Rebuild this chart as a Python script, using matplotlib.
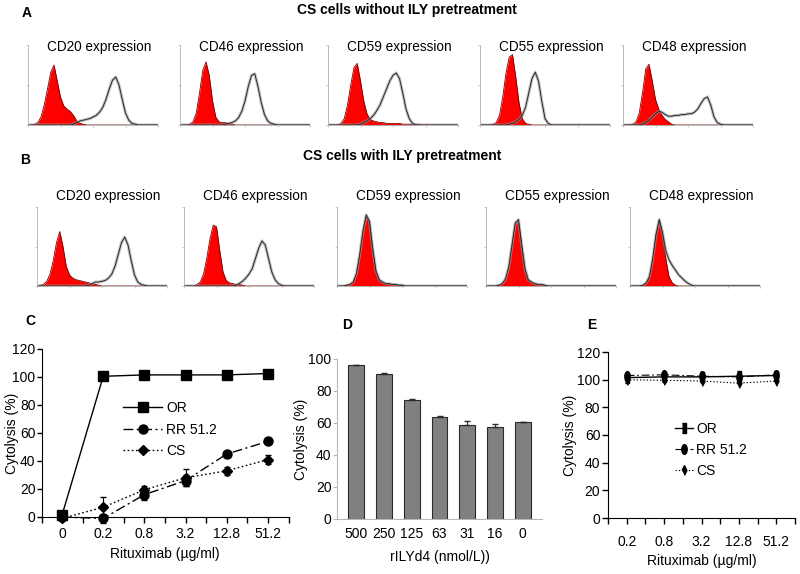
import numpy as np
import matplotlib
matplotlib.use("Agg")
import matplotlib.pyplot as plt
from matplotlib.lines import Line2D

plt.rcParams['font.family'] = ['Liberation Sans', 'DejaVu Sans']

# ---------------- data ----------------
# Flow cytometry histograms: heights (fraction of axis height) on a grid of
# log10 fluorescence in 0.1-decade bins, listed from a start decade.
A_CD20_ISO = (0.2, [0.01, 0.03, 0.10, 0.25, 0.45, 0.66, 0.75, 0.55, 0.35, 0.24, 0.20, 0.17, 0.12, 0.05, 0.02, 0.01])
A_CD20_EXP = (1.4, [0.01, 0.03, 0.05, 0.06, 0.07, 0.08, 0.10, 0.12, 0.16, 0.22, 0.32, 0.45, 0.56, 0.60, 0.50, 0.32, 0.15, 0.06, 0.02, 0.01])
A_CD46_ISO = (0.3, [0.01, 0.04, 0.15, 0.40, 0.68, 0.79, 0.62, 0.30, 0.10, 0.04, 0.03, 0.03, 0.02, 0.01])
A_CD46_EXP = (1.4, [0.01, 0.02, 0.03, 0.05, 0.09, 0.17, 0.30, 0.48, 0.62, 0.64, 0.48, 0.28, 0.13, 0.05, 0.02, 0.01])
A_CD59_ISO = (0.4, [0.02, 0.08, 0.25, 0.50, 0.72, 0.77, 0.55, 0.30, 0.14, 0.07, 0.05, 0.04, 0.03, 0.03, 0.02, 0.02, 0.02, 0.02, 0.02, 0.01, 0.01, 0.01, 0.01, 0.01, 0.01])
A_CD59_EXP = (1.0, [0.01, 0.03, 0.05, 0.08, 0.12, 0.18, 0.25, 0.35, 0.45, 0.55, 0.62, 0.65, 0.58, 0.40, 0.20, 0.08, 0.02])
A_CD55_ISO = (0.4, [0.01, 0.03, 0.12, 0.35, 0.65, 0.85, 0.88, 0.60, 0.28, 0.08, 0.02, 0.01])
A_CD55_EXP = (0.9, [0.01, 0.02, 0.04, 0.07, 0.12, 0.22, 0.40, 0.58, 0.66, 0.55, 0.30, 0.08, 0.02])
A_CD48_ISO = (0.3, [0.01, 0.04, 0.15, 0.40, 0.70, 0.76, 0.55, 0.32, 0.20, 0.12, 0.07, 0.04, 0.01])
A_CD48_EXP = (0.6, [0.01, 0.03, 0.06, 0.10, 0.14, 0.17, 0.16, 0.13, 0.11, 0.11, 0.12, 0.12, 0.13, 0.13, 0.14, 0.14, 0.16, 0.20, 0.27, 0.33, 0.35, 0.25, 0.10, 0.03, 0.01])

B_CD20_ISO = (0.1, [0.01, 0.02, 0.06, 0.15, 0.32, 0.55, 0.69, 0.50, 0.25, 0.14, 0.10, 0.08, 0.07, 0.06, 0.05, 0.04, 0.03, 0.02, 0.01])
B_CD20_EXP = (1.6, [0.01, 0.03, 0.05, 0.05, 0.06, 0.07, 0.10, 0.15, 0.25, 0.40, 0.55, 0.62, 0.52, 0.32, 0.14, 0.05, 0.02, 0.01])
B_CD46_ISO = (0.4, [0.02, 0.05, 0.15, 0.35, 0.60, 0.77, 0.75, 0.45, 0.18, 0.07, 0.04, 0.03, 0.02, 0.02, 0.01])
B_CD46_EXP = (1.6, [0.01, 0.03, 0.06, 0.10, 0.15, 0.22, 0.35, 0.48, 0.57, 0.52, 0.35, 0.18, 0.08, 0.03, 0.01])
B_CD59_ISO = (0.3, [0.01, 0.02, 0.05, 0.15, 0.38, 0.68, 0.88, 0.80, 0.45, 0.18, 0.07, 0.04, 0.03, 0.02, 0.02, 0.02, 0.01, 0.01])
B_CD59_EXP = (0.3, [0.01, 0.02, 0.05, 0.16, 0.40, 0.70, 0.90, 0.82, 0.47, 0.19, 0.08, 0.05, 0.03, 0.03, 0.02, 0.02, 0.01, 0.01])
B_CD55_ISO = (0.4, [0.01, 0.03, 0.08, 0.22, 0.50, 0.78, 0.82, 0.50, 0.20, 0.07, 0.04, 0.03, 0.02, 0.02, 0.01])
B_CD55_EXP = (0.4, [0.01, 0.03, 0.09, 0.24, 0.52, 0.80, 0.84, 0.52, 0.22, 0.08, 0.05, 0.03, 0.02, 0.02, 0.01])
B_CD48_ISO = (0.4, [0.01, 0.04, 0.12, 0.35, 0.65, 0.84, 0.66, 0.35, 0.12, 0.04, 0.01])
B_CD48_EXP = (0.4, [0.01, 0.04, 0.12, 0.35, 0.65, 0.84, 0.68, 0.45, 0.33, 0.26, 0.20, 0.14, 0.10, 0.06, 0.03, 0.01])

MARKERS_ROW = ["CD20", "CD46", "CD59", "CD55", "CD48"]
ROW_A = [(A_CD20_ISO, A_CD20_EXP), (A_CD46_ISO, A_CD46_EXP), (A_CD59_ISO, A_CD59_EXP),
         (A_CD55_ISO, A_CD55_EXP), (A_CD48_ISO, A_CD48_EXP)]
ROW_B = [(B_CD20_ISO, B_CD20_EXP), (B_CD46_ISO, B_CD46_EXP), (B_CD59_ISO, B_CD59_EXP),
         (B_CD55_ISO, B_CD55_EXP), (B_CD48_ISO, B_CD48_EXP)]

# Panel C
C_DOSES = ["0", "0.2", "0.8", "3.2", "12.8", "51.2"]
C_OR = [1.5, 100.5, 101.5, 101.5, 101.5, 102.5]
C_OR_ERR = [1.0, 1.0, 1.0, 1.0, 1.0, 1.0]
C_RR = [0.0, -1.0, 16.0, 26.0, 45.0, 54.0]
C_RR_ERR = [0.5, 3.5, 4.0, 4.0, 2.0, 2.0]
C_CS = [-1.0, 7.0, 19.5, 28.0, 33.0, 41.0]
C_CS_ERR = [0.5, 7.0, 3.0, 6.0, 3.0, 3.0]

# Panel D
D_CONC = ["500", "250", "125", "63", "31", "16", "0"]
D_LYSIS = [96.0, 90.4, 74.6, 63.8, 59.0, 57.5, 60.6]
D_ERR = [0.0, 0.6, 0.4, 0.6, 2.5, 1.8, 0.0]

# Panel E
E_DOSES = ["0.2", "0.8", "3.2", "12.8", "51.2"]
E_OR = [101.5, 102.0, 102.0, 102.5, 103.0]
E_RR = [103.0, 103.5, 102.5, 102.0, 103.5]
E_CS = [100.0, 99.5, 99.0, 97.5, 99.0]
E_ERR = [1.5, 1.5, 1.5, 1.5, 1.5]

# ---------------- figure ----------------
W, H = 800, 574
fig = plt.figure(figsize=(W / 100, H / 100), dpi=100)


def px_axes(l, t, r, b):
    return fig.add_axes([l / W, 1 - b / H, (r - l) / W, (b - t) / H])


GRID = np.round(np.arange(41) * 0.1, 1)


def expand(spec):
    start, vals = spec
    arr = np.zeros(len(GRID))
    i0 = int(round(start * 10))
    arr[i0:i0 + len(vals)] = vals
    return arr


def hist_panel(l, t, r, b, iso, exp, title, title_y):
    ax = px_axes(l, t, r, b)
    y_iso = expand(iso)
    y_exp = expand(exp)
    ax.fill_between(GRID, 0, y_iso, color='#ff0000', lw=0)
    ax.plot(GRID, y_iso, color='#7a0000', lw=0.6)
    ax.plot(GRID, y_exp, color='#9a9a9a', lw=2.2, alpha=0.6)
    ax.plot(GRID, y_exp, color='#2a2a2a', lw=0.7)
    ax.set_xlim(0, 4)
    ax.set_ylim(0, 1)
    for s in ['top', 'right']:
        ax.spines[s].set_visible(False)
    for s in ['left', 'bottom']:
        ax.spines[s].set_color('#b0b0b0')
        ax.spines[s].set_linewidth(0.6)
    ax.set_xticks([0, 1, 2, 3, 4])
    ax.set_yticks([0, 0.5, 1])
    ax.tick_params(length=1.5, width=0.5, colors='#b0b0b0', labelsize=1)
    ax.set_xticklabels([])
    ax.set_yticklabels([])
    ax.text(0.55, title_y, title + " expression", transform=ax.transAxes,
            ha='center', va='center', fontsize=9.8)
    return ax


fig.text(22 / W, 1 - 13 / H, "A", fontsize=10, fontweight='bold', va='center', ha='left')
fig.text(407 / W, 1 - 10 / H, "CS cells without ILY pretreatment", fontsize=10,
         fontweight='bold', ha='center', va='center')
lefts_a = [28, 180, 328, 480, 623]
for l, (iso, exp), m in zip(lefts_a, ROW_A, MARKERS_ROW):
    hist_panel(l, 45, l + 130, 125, iso, exp, m, 0.98)

fig.text(20 / W, 1 - 160 / H, "B", fontsize=10, fontweight='bold', va='center', ha='left')
fig.text(402 / W, 1 - 156 / H, "CS cells with ILY pretreatment", fontsize=10,
         fontweight='bold', ha='center', va='center')
lefts_b = [37, 184, 337, 486, 630]
for l, (iso, exp), m in zip(lefts_b, ROW_B, MARKERS_ROW):
    hist_panel(l, 207, l + 130, 286, iso, exp, m, 1.14)

TICK_FS = 10
RR_DASH = (0, (7, 2.5, 1.5, 2.5))
CS_DOT = (0, (1.2, 1.8))

# ---------------- Panel C ----------------
fig.text(25 / W, 1 - 321 / H, "C", fontsize=10, fontweight='bold', va='center')
axc = px_axes(41.5, 349, 288.5, 517)
xc = np.arange(len(C_DOSES))
series_c = [(C_OR, C_OR_ERR, '-', 's', 6.5, 'OR'),
            (C_RR, C_RR_ERR, RR_DASH, 'o', 6.5, 'RR 51.2'),
            (C_CS, C_CS_ERR, CS_DOT, 'D', 5.5, 'CS')]
handles = []
for vals, err, ls, mk, ms, lab in series_c:
    axc.errorbar(xc, vals, yerr=err, fmt='none', ecolor='black', elinewidth=0.8,
                 capsize=2.5, clip_on=False)
    h, = axc.plot(xc, vals, color='black', lw=1.0, ls=ls, marker=mk, ms=ms,
                  clip_on=False, label=lab)
    handles.append(h)
axc.set_xlim(-0.5, len(C_DOSES) - 0.5)
axc.set_ylim(0, 120)
axc.set_yticks(range(0, 121, 20))
axc.set_xticks(xc)
axc.set_xticklabels(C_DOSES)
axc.set_xticks(np.arange(-0.5, len(C_DOSES), 0.5), minor=True)
axc.tick_params(axis='x', which='both', length=4, width=1, direction='out', labelsize=TICK_FS, pad=3)
axc.tick_params(axis='y', length=3.6, width=1, labelsize=TICK_FS, pad=0.8)
for s in ['top', 'right']:
    axc.spines[s].set_visible(False)
axc.set_ylabel("Cytolysis (%)", fontsize=10)
axc.yaxis.set_label_coords(-0.092, 0.5)
axc.set_xlabel("Rituximab (\u00b5g/ml)", fontsize=10, labelpad=4.5)
axc.legend(handles=handles, loc='upper left', bbox_to_anchor=(0.28, 0.765), frameon=False,
           fontsize=TICK_FS, handlelength=2.8, handletextpad=0.3, labelspacing=0.55)

# ---------------- Panel D ----------------
fig.text(342 / W, 1 - 325 / H, "D", fontsize=10, fontweight='bold', va='center')
axd = px_axes(337, 359, 542, 519)
xd = np.arange(len(D_CONC))
axd.bar(xd, D_LYSIS, width=0.57, color='#808080', edgecolor='#2a2a2a', lw=0.8)
axd.errorbar(xd, D_LYSIS, yerr=[np.zeros(len(D_ERR)), D_ERR], fmt='none', ecolor='#2a2a2a',
             elinewidth=0.8, capsize=2.5)
axd.set_xlim(-0.7, len(D_CONC) - 0.3)
axd.set_ylim(0, 100)
axd.set_yticks(range(0, 101, 20))
axd.set_xticks(xd)
axd.set_xticklabels(D_CONC)
for s in ['top', 'right']:
    axd.spines[s].set_visible(False)
for s in ['left', 'bottom']:
    axd.spines[s].set_color('#b8b8b8')
axd.tick_params(axis='x', length=0, labelsize=TICK_FS, pad=6)
axd.tick_params(axis='y', length=3, color='#b8b8b8', labelsize=TICK_FS, pad=1)
axd.set_ylabel("Cytolysis (%)", fontsize=10)
axd.yaxis.set_label_coords(-0.141, 0.5)
axd.set_xlabel("rILYd4 (nmol/L))", fontsize=10, labelpad=6)

# ---------------- Panel E ----------------
fig.text(587 / W, 1 - 325 / H, "E", fontsize=10, fontweight='bold', va='center')
axe = px_axes(608, 352, 795, 518)
xe = np.arange(len(E_DOSES))
sq = [(-0.5, -1), (0.5, -1), (0.5, 1), (-0.5, 1)]
th = np.linspace(0, 2 * np.pi, 25)
ell = list(zip(0.55 * np.cos(th), np.sin(th)))
dia = [(0, -1), (0.5, 0), (0, 1), (-0.5, 0)]
series_e = [(E_OR, '-', 1.0, sq, 'OR'), (E_RR, RR_DASH, 0.8, ell, 'RR 51.2'),
            (E_CS, CS_DOT, 0.8, dia, 'CS')]
handles_e = []
for vals, ls, lw, mk, lab in series_e:
    axe.errorbar(xe, vals, yerr=E_ERR, fmt='none', ecolor='black', elinewidth=0.8, capsize=0)
    h, = axe.plot(xe, vals, color='black', lw=lw, ls=ls, marker=mk, ms=7, label=lab)
    handles_e.append(h)
axe.set_xlim(-0.5, len(E_DOSES) - 0.5)
axe.set_ylim(0, 120)
axe.set_yticks(range(0, 121, 20))
axe.set_xticks(xe)
axe.set_xticklabels(E_DOSES)
axe.set_xticks(np.arange(-0.5, len(E_DOSES), 0.5), minor=True)
axe.tick_params(axis='x', which='both', length=4, width=1, labelsize=TICK_FS, pad=8.5)
axe.tick_params(axis='y', length=4, width=1, labelsize=TICK_FS, pad=1.5)
for s in ['top', 'right']:
    axe.spines[s].set_visible(False)
axe.set_ylabel("Cytolysis (%)", fontsize=10)
axe.yaxis.set_label_coords(-0.166, 0.5)
axe.set_xlabel("Rituximab (\u00b5g/ml)", fontsize=10, labelpad=3)
axe.legend(handles=handles_e, loc='upper left', bbox_to_anchor=(0.293, 0.654), frameon=False,
           fontsize=TICK_FS, handlelength=1.3, handletextpad=0.2, labelspacing=0.5)

fig.savefig("out.png", dpi=100)
